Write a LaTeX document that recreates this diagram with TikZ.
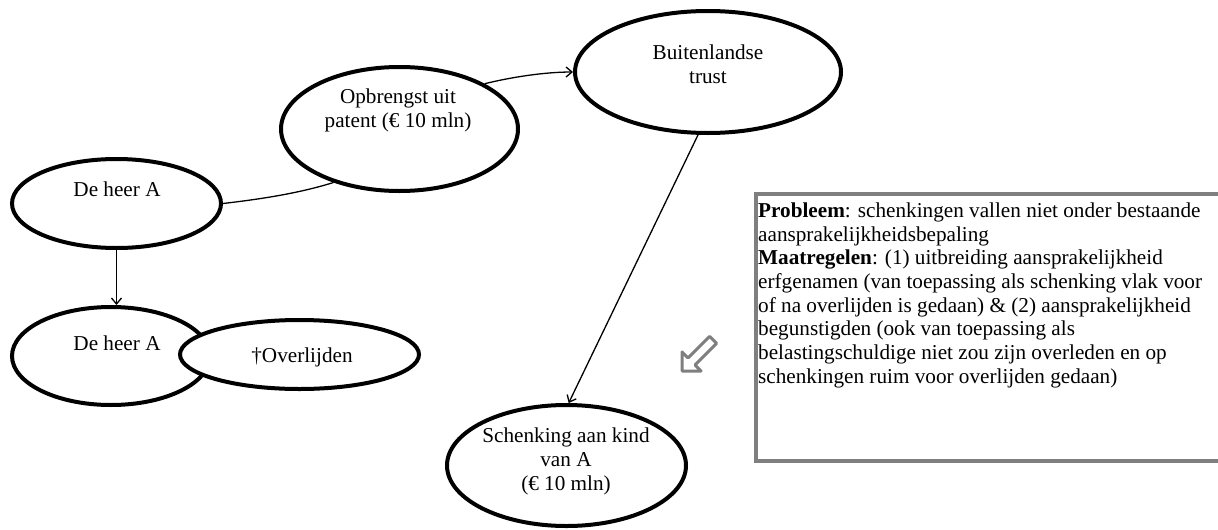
\documentclass[tikz,border=0pt]{standalone}
\usepackage{fontspec}
\setmainfont{Liberation Serif}
\usetikzlibrary{shapes.geometric,arrows.meta}
\definecolor{boxgray}{RGB}{127,127,127}
\begin{document}
\begin{tikzpicture}[x=1pt,y=-1pt,
  oval/.style={draw, shape=ellipse, line width=4pt, inner sep=0pt, fill=white},
  lbl/.style={font=\fontsize{21.2}{24}\selectfont, align=center, inner sep=0pt},
  conn/.style={line width=1.3pt},
  arr/.style={conn, -{Straight Barb[length=6pt,width=10pt]}},
  note/.style={font=\fontsize{21.2}{23.7}\selectfont, align=left, inner sep=0pt, anchor=north west},
  hollow/.style={draw=boxgray, line width=3pt, line join=round},
]
\useasboundingbox (0,0) rectangle (1218,530);

% ellipses
\node[oval, minimum width=209pt, minimum height=89pt] (A1) at (116.5,203.5) {};
\node[oval, minimum width=237pt, minimum height=124pt] (O) at (399.5,129) {};
\node[oval, minimum width=266pt, minimum height=122pt] (T) at (708,72) {};
\node[oval, minimum width=239pt, minimum height=121pt] (S) at (566.5,465.5) {};
\node[oval, minimum width=198pt, minimum height=98pt] (A2) at (111,356) {};
\node[oval, minimum width=239pt, minimum height=69pt] (D) at (299.5,354.5) {};

% texts
\node[lbl] (tA1) at (117,189) {De heer A};
\node[lbl] (tO) at (398,110.5) {Opbrengst uit\\patent (€ 10 mln)};
\node[lbl] (tT) at (708,64) {Buitenlandse\\trust};
\node[lbl] (tS) at (566,461) {Schenking aan kind\\van A\\(€ 10 mln)};
\node[lbl] (tA2) at (117,343) {De heer A};
\node[lbl] (tD) at (302,357) {†Overlijden};

% connectors
\draw[conn] (A1.east) .. controls (262,199) and (300,193) .. (O.219);
\draw[arr] (O.28) .. controls (512,77) and (545,72) .. (T.west);
\draw[arr] (A1.south) -- (A1.south |- A2.north);
\draw[arr] (T.261) -- (S.88);

% note box
\node[draw=boxgray, line width=4pt, inner sep=0pt, anchor=north west,
      minimum width=470pt, minimum height=266.5pt] (box) at (754,192) {};
\node[note] (boxtext) at (758,202.5) {\textbf{Probleem}: schenkingen vallen niet onder bestaande\\
aansprakelijkheidsbepaling\\
\textbf{Maatregelen}: (1) uitbreiding aansprakelijkheid\\
erfgenamen (van toepassing als schenking vlak voor\\
of na overlijden is gedaan) \& (2) aansprakelijkheid\\
begunstigden (ook van toepassing als\\
belastingschuldige niet zou zijn overleden en op\\
schenkingen ruim voor overlijden gedaan)};

% hollow arrow
\begin{scope}[shift={(682,371)}, rotate=225]
  \draw[hollow] (0,0) -- (-13.5,13.5) -- (-13.5,5) -- (-44,5) -- (-44,-5)
    -- (-13.5,-5) -- (-13.5,-13.5) -- cycle;
\end{scope}
\end{tikzpicture}
\end{document}
